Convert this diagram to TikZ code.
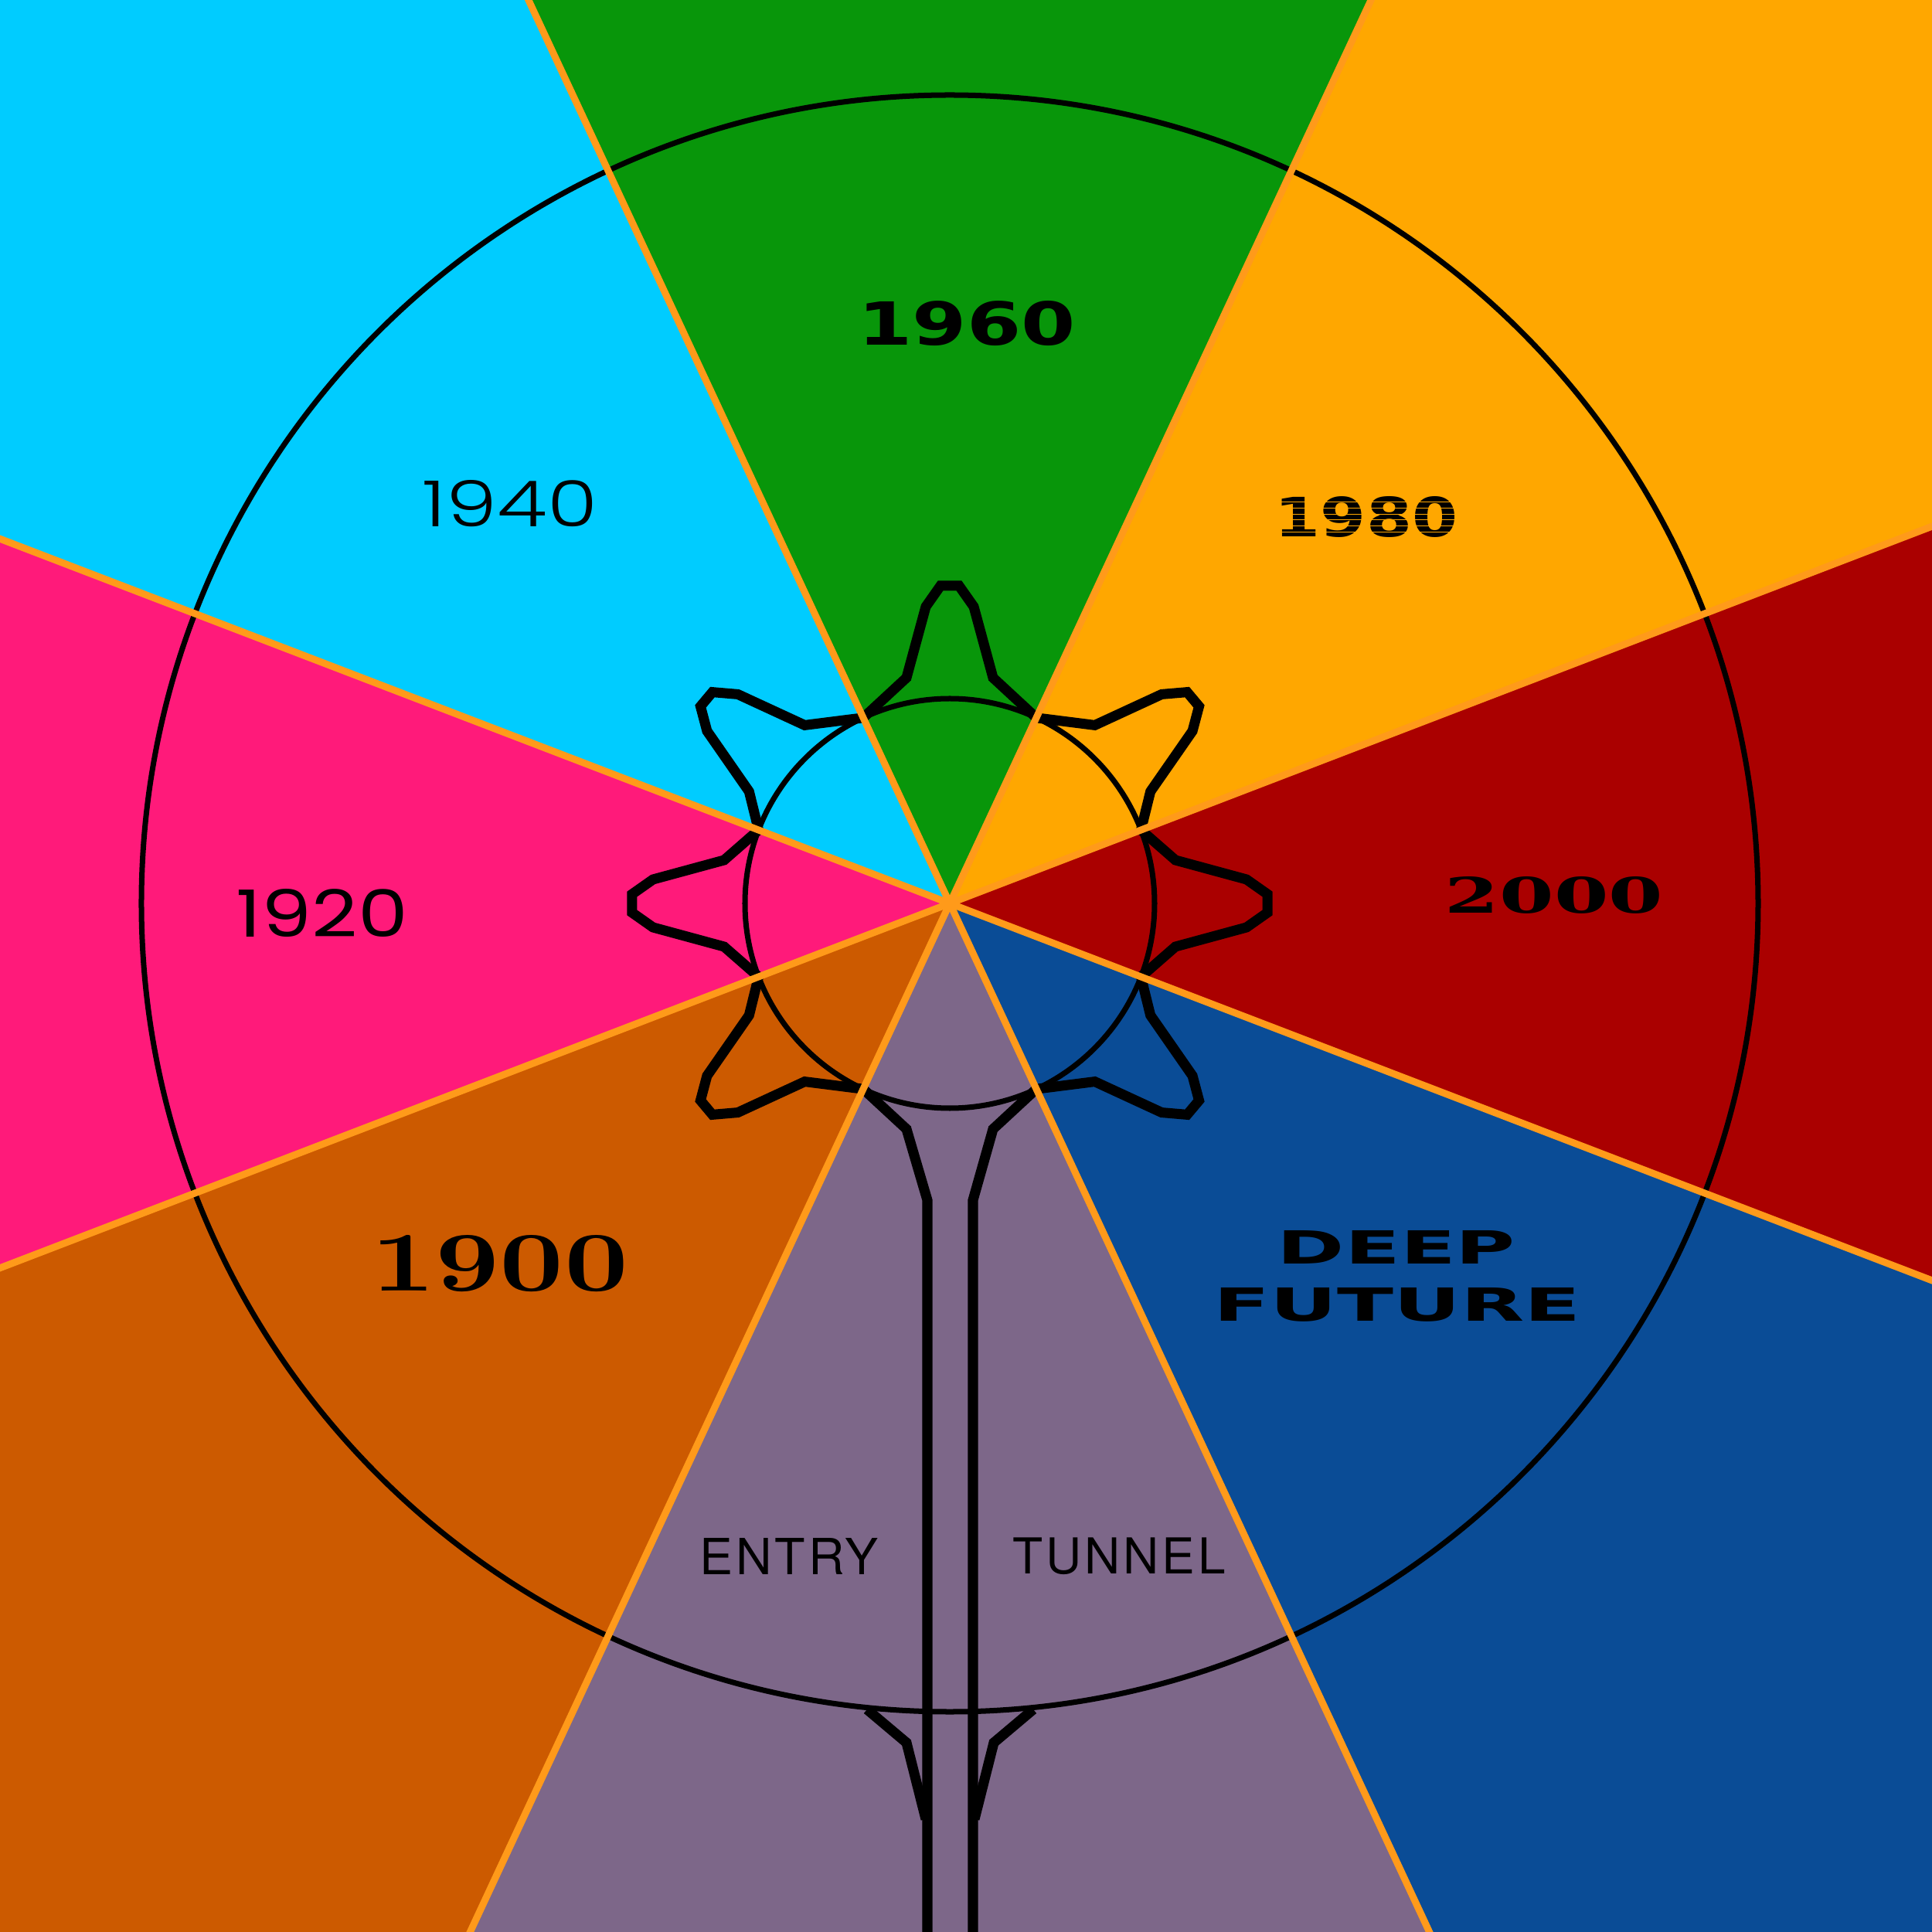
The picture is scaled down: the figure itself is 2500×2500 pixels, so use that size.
\documentclass[tikz,border=0pt]{standalone}
\usepackage{fontspec}
\usepackage{graphicx}
\usetikzlibrary{calc}
\newfontfamily\popfont{Poppins}
\newfontfamily\popthin{Poppins Light}
\newfontfamily\dvsans{DejaVu Sans}
\newfontfamily\herosfont{TeX Gyre Heros}[LetterSpace=6]
\newfontfamily\dvserif{DejaVu Serif}
\definecolor{skyc}{HTML}{00CCFF}
\definecolor{grassc}{HTML}{08960A}
\definecolor{amberc}{HTML}{FFA700}
\definecolor{bloodc}{HTML}{AA0000}
\definecolor{navyc}{HTML}{0A4C96}
\definecolor{plumc}{HTML}{7D6789}
\definecolor{rustc}{HTML}{CC5A00}
\definecolor{rosec}{HTML}{FF1A7A}
\definecolor{seamc}{HTML}{FF9A1A}
\newcommand{\fitbox}[3]{\resizebox{#1mm}{#2mm}{#3}}
\tikzset{
  seam/.style={draw=seamc, line width=0.9mm},
  ring/.style={draw=black, line width=0.7mm},
  gear/.style={draw=black, line width=1.3mm, line join=miter},
  year/.style={inner sep=0pt, text=black},
  stripe/.style={draw=amberc, line width=0.12mm}
}
\begin{document}
\begin{tikzpicture}[x=0.01cm, y=0.01cm]
  \useasboundingbox (-1229,-1331) rectangle (1271,1169);
  \clip (-1229,-1331) rectangle (1271,1169);
  \fill[amberc] (0,0) -- (21:3000) -- (65:3000) -- cycle;
  \fill[grassc] (0,0) -- (65:3000) -- (115:3000) -- cycle;
  \fill[skyc] (0,0) -- (115:3000) -- (159:3000) -- cycle;
  \fill[rosec] (0,0) -- (159:3000) -- (201:3000) -- cycle;
  \fill[rustc] (0,0) -- (201:3000) -- (245:3000) -- cycle;
  \fill[plumc] (0,0) -- (245:3000) -- (295:3000) -- cycle;
  \fill[navyc] (0,0) -- (295:3000) -- (339:3000) -- cycle;
  \fill[bloodc] (0,0) -- (339:3000) -- (381:3000) -- cycle;
  \draw[ring] (0,0) circle (1046);
  \draw[ring] (0,0) circle (265);
  \draw[gear] (30,-1331) -- (30,-384) -- (56,-292) -- (295:265)
    \foreach \a/\b in {320/339,360/381,400/425,450/475,500/519,540/561,580/605} {
      -- ([rotate=\a]292,-56) -- ([rotate=\a]384,-31) -- ([rotate=\a]411,-12)
      -- ([rotate=\a]411,12) -- ([rotate=\a]384,31) -- ([rotate=\a]292,56) -- (\b:265) }
    -- (-56,-292) -- (-29,-384) -- (-29,-1331);
  \draw[gear] (-107,-1043) -- (-56,-1086) -- (-31,-1185);
  \draw[gear] (108,-1043) -- (57,-1086) -- (32,-1185);
  \foreach \a in {21,65,115,159,201,245,295,339}
    \draw[seam] (0,0) -- (\a:3000);
  \node[year] (y1960) at (22,750) {\fitbox{28.1}{5.7}{\dvsans\bfseries 1960}};
  \node[year] (y1940) at (-569,517) {\fitbox{22.6}{6.0}{\popthin 1940}};
  \node[year] (y1980) at (539,500) {\fitbox{23.6}{5.2}{\dvsans\bfseries 1980}};
  \foreach \k in {1,...,6}
    \draw[stripe] ($(y1980.south west)!\k/7!(y1980.north west)$) -- ($(y1980.south east)!\k/7!(y1980.north east)$);
  \node[year] (y1920) at (-812,-13) {\fitbox{22.2}{6.2}{\popfont 1920}};
  \node[year] (y2000) at (782,11) {\fitbox{28.2}{4.7}{\dvserif\bfseries 2000}};
  \node[year] (y1900) at (-582,-466) {\fitbox{33.2}{7.2}{\bfseries 1900}};
  \node[year] (deep) at (578,-445) {\fitbox{30.8}{4.3}{\dvsans\bfseries DEEP}};
  \node[year] (future) at (579,-519) {\fitbox{47.5}{4.3}{\dvsans\bfseries FUTURE}};
  \node[year] (entry) at (-208,-845) {\resizebox{23.1mm}{!}{\herosfont ENTRY}};
  \node[year] (tunnel) at (219,-845) {\resizebox{27.5mm}{!}{\herosfont TUNNEL}};
\end{tikzpicture}
\end{document}
